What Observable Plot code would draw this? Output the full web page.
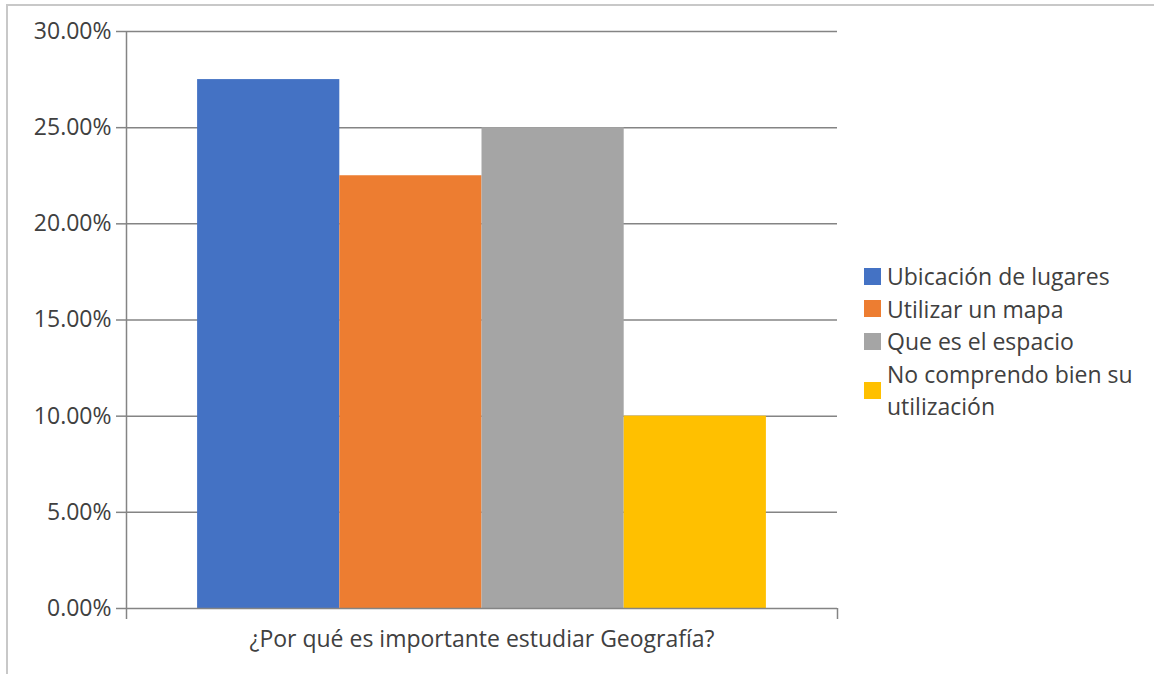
<!DOCTYPE html>
<html><head><meta charset="utf-8">
<script src="https://cdn.jsdelivr.net/npm/d3@7"></script>
<script src="https://cdn.jsdelivr.net/npm/@observablehq/plot@0.6"></script>
<style>
body{margin:0;background:#fff;font-family:"Open Sans",sans-serif;}
#wrap{position:relative;width:1154px;height:674px;overflow:hidden;background:#fff;}
#frame{position:absolute;left:6px;top:4px;right:0;bottom:-4px;border-top:2px solid #c8c8c8;border-left:2px solid #c8c8c8;}
#chart{position:absolute;left:0;top:0;}
#legend{position:absolute;left:864px;top:260px;width:288px;color:#404040;font-size:23px;line-height:32.5px;}
.item{display:flex;align-items:center;}
.sw{width:17px;height:17px;flex:none;margin-right:6px;}
.lab{width:265px;}
</style></head>
<body>
<div id="wrap"><div id="frame"></div><div id="chart"></div><div id="legend"></div></div>
<script>
const categories = ["Ubicación de lugares", "Utilizar un mapa", "Que es el espacio", "No comprendo bien su utilización"];
const values = [0.275, 0.225, 0.25, 0.10];
const colors = ["#4472C4", "#ED7D31", "#A5A5A5", "#FFC000"];
const yTicks = [0, 0.05, 0.10, 0.15, 0.20, 0.25, 0.30];
const question = "¿Por qué es importante estudiar Geografía?";

const rows = categories.map((c, i) => ({name: c, value: values[i], i}));
const grid = "#848484";
const ink = "#404040";

const chart = Plot.plot({
  width: 860, height: 674,
  marginLeft: 126, marginRight: 23, marginTop: 31, marginBottom: 66,
  style: {fontFamily: "Open Sans", fontSize: "23px", color: ink, background: "transparent"},
  x: {domain: [0, categories.length + 1], axis: null},
  y: {domain: [0, 0.3], axis: null},
  color: {domain: categories, range: colors},
  marks: [
    Plot.ruleY(yTicks.filter(d => d > 0), {stroke: grid, strokeWidth: 1.5}),
    Plot.rectY(rows, {x1: d => d.i + 0.5, x2: d => d.i + 1.5, y1: 0, y2: "value", fill: "name"}),
    Plot.ruleY([0], {stroke: grid, strokeWidth: 1.5}),
    Plot.ruleX([0], {stroke: grid, strokeWidth: 1.5}),
    Plot.axisY({ticks: yTicks, tickSize: 10, tickPadding: 5, stroke: grid, strokeWidth: 1.5,
      tickFormat: d => (d * 100).toFixed(2) + "%", label: null, fontSize: 23, fill: ink}),
    Plot.axisX({ticks: [0, categories.length + 1], tickSize: 11, stroke: grid, strokeWidth: 1.5,
      tickFormat: () => "", label: null}),
    Plot.text([question], {frameAnchor: "bottom", dy: 31, lineAnchor: "middle", fontSize: 23, fill: ink})
  ]
});
document.getElementById("chart").appendChild(chart);

const legend = document.getElementById("legend");
categories.forEach((c, i) => {
  const it = document.createElement("div");
  it.className = "item";
  const sw = document.createElement("div");
  sw.className = "sw"; sw.style.background = colors[i];
  const lab = document.createElement("div");
  lab.className = "lab"; lab.textContent = c;
  it.appendChild(sw); it.appendChild(lab);
  legend.appendChild(it);
});
</script>
</body></html>
